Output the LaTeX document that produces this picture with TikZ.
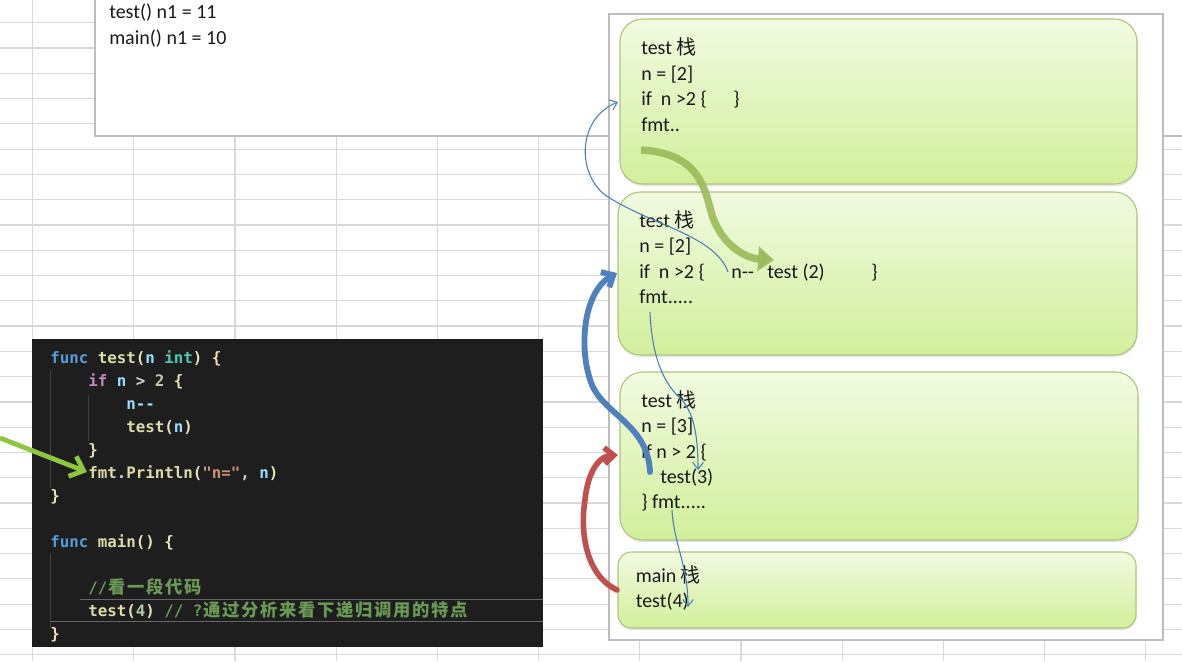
\documentclass[tikz,border=0pt]{standalone}
\usepackage{fontspec}
\setmainfont{Carlito}
\newfontfamily\cjk{Noto Sans CJK SC}
\newfontfamily\codefont{DejaVu Sans Mono}
\usetikzlibrary{arrows.meta,shadows}
\definecolor{gridc}{HTML}{D9D9D9}
\definecolor{panelc}{HTML}{BDBDBD}
\definecolor{boxtop}{HTML}{F1FAE0}
\definecolor{boxbot}{HTML}{D2EF9C}
\definecolor{boxborder}{HTML}{A9C77A}
\definecolor{thinblue}{HTML}{4A7EBB}
\definecolor{thickblue}{HTML}{4F81BD}
\definecolor{redarr}{HTML}{C0504D}
\definecolor{greenbox}{HTML}{9BBB59}
\definecolor{greencode}{HTML}{8DC63F}
\definecolor{codebg}{HTML}{1E1E1E}
\definecolor{guidec}{HTML}{404040}
\definecolor{cKw}{HTML}{569CD6}
\definecolor{cFn}{HTML}{DCDCAA}
\definecolor{cVar}{HTML}{9CDCFE}
\definecolor{cType}{HTML}{4EC9B0}
\definecolor{cCtl}{HTML}{C586C0}
\definecolor{cNum}{HTML}{B5CEA8}
\definecolor{cStr}{HTML}{CE9178}
\definecolor{cCom}{HTML}{6A9955}
\definecolor{cTxt}{HTML}{D4D4D4}
\definecolor{cBr}{HTML}{E6E2B8}
\newcommand\ck[1]{\textcolor{cKw}{#1}}
\newcommand\cf[1]{\textcolor{cFn}{#1}}
\newcommand\cv[1]{\textcolor{cVar}{#1}}
\newcommand\ct[1]{\textcolor{cType}{#1}}
\newcommand\cc[1]{\textcolor{cCtl}{#1}}
\newcommand\cn[1]{\textcolor{cNum}{#1}}
\newcommand\cs[1]{\textcolor{cStr}{#1}}
\newcommand\cm[1]{\textcolor{cCom}{#1}}
\newcommand\co[1]{\textcolor{cTxt}{#1}}
\newcommand\cb[1]{\textcolor{cBr}{#1}}
\makeatletter
\newcommand\cjkcells[1]{{\cjk\bfseries\fontsize{13}{15}\selectfont\@tfor\@cc:=#1\do{\makebox[14.25pt][c]{\@cc}}}}
\makeatother
\tikzset{
  gridline/.style={draw=gridc, line width=0.9pt},
  stackbox/.style={draw=boxborder, line width=0.8pt, rounded corners=17pt,
    top color=boxtop, bottom color=boxbot, inner sep=0pt,
    drop shadow={opacity=0.22, shadow xshift=0.4pt, shadow yshift=-1.6pt}},
  boxtext/.style={anchor=base west, inner sep=0pt, text=black!90,
    font=\fontsize{15}{18}\selectfont},
  codetext/.style={anchor=base west, inner sep=0pt,
    font=\codefont\bfseries\fontsize{11.84}{14}\selectfont},
  guide/.style={draw=guidec, line width=0.7pt},
  thinflow/.style={draw=thinblue, line width=0.8pt,
    -{Straight Barb[length=5pt,width=8pt]}},
  bluearr/.style={draw=thickblue, line width=4.4pt, line cap=round,
    -{Straight Barb[length=7pt,width=13pt]}},
  redarrow/.style={draw=redarr, line width=4.2pt, line cap=round,
    -{Straight Barb[length=7pt,width=12pt]}},
  greenarr/.style={draw=greenbox, draw opacity=0.9, line width=5.5pt,
    -{Triangle[length=12pt,width=18pt]}},
  codearrow/.style={draw=greencode, line width=3.6pt,
    -{Straight Barb[length=9pt,width=16pt]}},
}
\begin{document}
\begin{tikzpicture}[x=0.75pt,y=-0.75pt]
\useasboundingbox (0,0) rectangle (1182,661);
\fill[white] (0,0) rectangle (1182,661);
% spreadsheet grid
\foreach \k in {0,...,25} \draw[gridline] (0,{22.7+25.28*\k}) -- (1182,{22.7+25.28*\k});
\foreach \k in {0,...,11} \draw[gridline] ({32.5+101.2*\k},0) -- ({32.5+101.2*\k},661);
% top output box
\draw[draw=panelc, fill=white, line width=0.9pt] (95,-5) rectangle (1190,136);
\node[boxtext] (out1) at (109,18) {test() n1 = 11};
\node[boxtext] (out2) at (109,44) {main() n1 = 10};
% right panel
\draw[draw=panelc, fill=white, line width=0.9pt] (609,14) rectangle (1163,640);
% stack boxes
\node[stackbox, minimum width=387.75pt, minimum height=123.75pt] (b1) at (878.5,101.5) {};
\node[stackbox, minimum width=389.25pt, minimum height=122.25pt] (b2) at (877.5,273.5) {};
\node[stackbox, minimum width=388.5pt, minimum height=126pt] (b3) at (879,456) {};
\node[stackbox, rounded corners=10pt, minimum width=388.5pt, minimum height=57pt] (b4) at (877,590) {};
% box 1
\node[boxtext] (t11) at (641,54.5) {test {\cjk 栈}};
\node[boxtext] (t12) at (641,80) {n = [2]};
\node[boxtext] (t13) at (641,105.5) {if\ \ n >2 \{};
\node[boxtext] (t13b) at (733,105.5) {\}};
\node[boxtext] (t14) at (641,131) {fmt..};
% box 2
\node[boxtext] (t21) at (639,227) {test {\cjk 栈}};
\node[boxtext] (t22) at (639,252.5) {n = [2]};
\node[boxtext] (t23) at (639,278) {if\ \ n >2 \{};
\node[boxtext] (t23b) at (731,278) {n-\kern0pt-};
\node[boxtext] (t23c) at (767,278) {test (2)};
\node[boxtext] (t23d) at (871,278) {\}};
\node[boxtext] (t24) at (639,303.5) {fmt.....};
% box 3
\node[boxtext] (t31) at (641,407) {test {\cjk 栈}};
\node[boxtext] (t32) at (641,432.5) {n = [3]};
\node[boxtext] (t33) at (641,458) {if n > 2 \{};
\node[boxtext] (t34) at (660,483) {test(3)};
\node[boxtext] (t35) at (641,508) {\} fmt.....};
% box 4
\node[boxtext] (t41) at (635.5,582) {main {\cjk 栈}};
\node[boxtext] (t42) at (635.5,607) {test(4)};
% code block
\fill[codebg] (32,339) rectangle (543,647);
\draw[guide] (50,370) -- (50,488);
\draw[guide] (88,395) -- (88,441);
\draw[guide] (50,553) -- (50,628);
\draw[draw=guidec!80, line width=0.6pt] (80,599) -- (543,599);
\draw[draw=guidec!80, line width=0.6pt] (50,621) -- (543,621);
\frenchspacing
\node[codetext] (c1) at (50,363.3) {\ck{func} \cf{test}\cb{(}\cv{n} \ct{int}\cb{)} \cb{\{}};
\node[codetext] (c2) at (88,386.3) {\cc{if} \cv{n} \co{>} \cn{2} \cb{\{}};
\node[codetext] (c3) at (126,409.4) {\cv{n-\kern0pt-}};
\node[codetext] (c4) at (126,432.4) {\cf{test}\cb{(}\cv{n}\cb{)}};
\node[codetext] (c5) at (88,455.4) {\cb{\}}};
\node[codetext] (c6) at (88,478.5) {\cf{fmt}\co{.}\cf{Println}\cb{(}\cs{"n="}\co{,} \cv{n}\cb{)}};
\node[codetext] (c7) at (50,501.5) {\cb{\}}};
\node[codetext] (c9) at (50,547.6) {\ck{func} \cf{main}\cb{()} \cb{\{}};
\node[codetext] (c11) at (88,593.6) {\cm{//\cjkcells{看一段代码}}};
\node[codetext] (c12) at (88,616.7) {\cf{test}\cb{(}\cn{4}\cb{)} \cm{// ?\cjkcells{通过分析来看下递归调用的特点}}};
\node[codetext] (c13) at (50,639.7) {\cb{\}}};
% arrow into code
\coordinate (ga) at (0,438);
\coordinate (gb) at (87,472);
\draw[codearrow] (ga) -- (gb);
% thin flow arrows
\coordinate (fa1) at (728,272);
\coordinate (fa2) at (605,195);
\coordinate (fa3) at (618,102);
\draw[thinflow] (fa1) .. controls (715,235) and (650,225) .. (fa2) .. controls (576,172) and (578,118) .. (fa3);
\coordinate (fb1) at (650,312);
\coordinate (fb2) at (682,400);
\coordinate (fb3) at (698,470);
\draw[thinflow] (fb1) .. controls (652,360) and (665,385) .. (fb2) .. controls (695,415) and (698,440) .. (fb3);
\coordinate (fc1) at (672,510);
\coordinate (fc2) at (688,607);
\draw[thinflow] (fc1) .. controls (674,545) and (688,565) .. (fc2);
% thick green return arrow
\coordinate (gr1) at (641,150);
\coordinate (gr2) at (712,215);
\coordinate (gr3) at (774,260);
\draw[greenarr] (gr1) .. controls (700,153) and (705,190) .. (gr2) .. controls (722,245) and (745,258) .. (gr3);
% thick blue call arrow
\coordinate (bl1) at (650,472);
\coordinate (bl2) at (592,385);
\coordinate (bl3) at (617,273);
\draw[bluearr] (bl1) .. controls (648,425) and (605,415) .. (bl2) .. controls (578,350) and (583,292) .. (bl3);
% red call arrow
\coordinate (rd1) at (617,590);
\coordinate (rd2) at (585,500);
\coordinate (rd3) at (618,455);
\draw[redarrow] (rd1) .. controls (585,575) and (580,530) .. (rd2) .. controls (588,470) and (600,456) .. (rd3);
\end{tikzpicture}
\end{document}
